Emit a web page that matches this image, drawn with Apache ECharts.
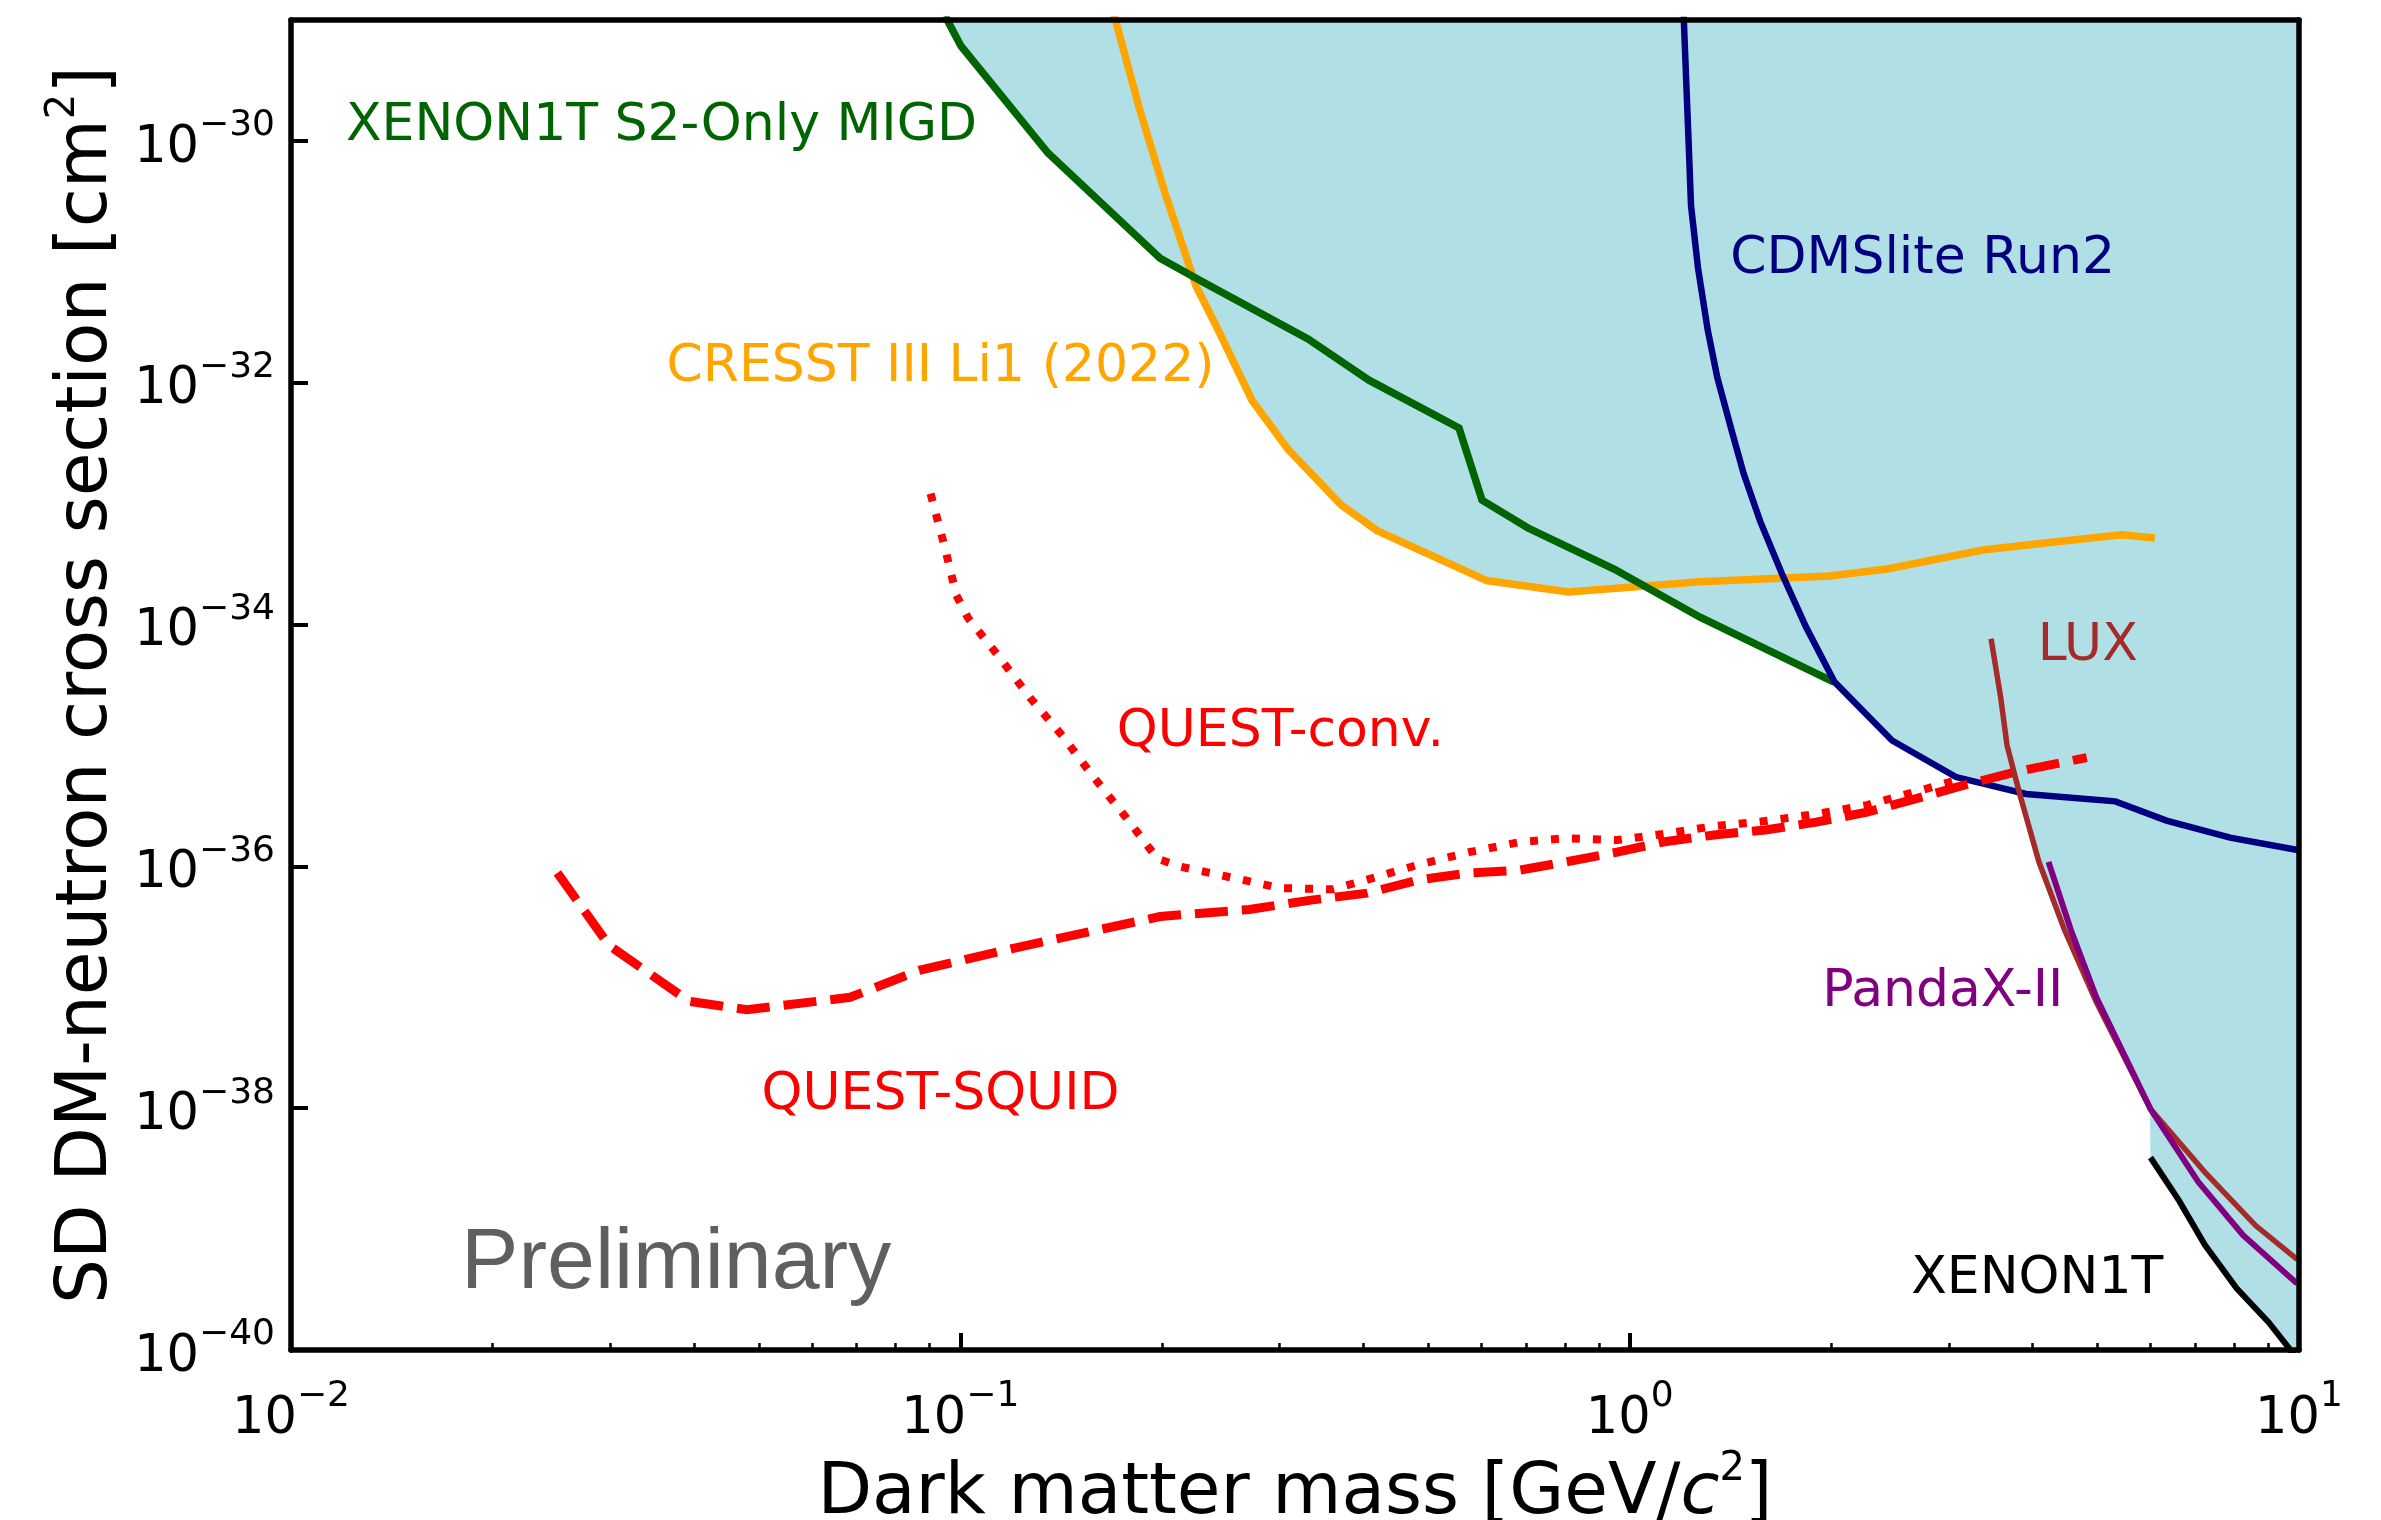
<!DOCTYPE html>
<html>
<head>
<meta charset="utf-8">
<title>SD DM-neutron cross section limits</title>
<script src="https://cdn.jsdelivr.net/npm/echarts@6/dist/echarts.min.js"></script>
<style>
  html, body { margin: 0; padding: 0; background: #ffffff; }
  #chart { width: 2381px; height: 1520px; }
</style>
</head>
<body>
<div id="chart"></div>
<script>
// Exclusion limits: [dark matter mass (GeV/c^2), SD DM-neutron cross section (cm^2)]
const xenon1tMigdLimit = [
  [0.0949, 1.08e-29], [0.1002, 6.10e-30], [0.1352, 7.94e-31], [0.1988, 1.07e-31],
  [0.2289, 6.93e-32], [0.3307, 2.30e-32], [0.4078, 1.05e-32], [0.5050, 5.61e-33],
  [0.5560, 4.22e-33], [0.6017, 1.07e-33], [0.7049, 6.28e-34], [0.9478, 2.88e-34],
  [1.274, 1.15e-34], [2.020, 3.34e-35]
];
const cresstLimit = [
  [0.1697, 1.10e-29], [0.1854, 1.81e-30], [0.2024, 3.65e-31], [0.2249, 6.34e-32],
  [0.2434, 2.65e-32], [0.2728, 7.13e-33], [0.3085, 2.83e-33], [0.3709, 9.73e-34],
  [0.4195, 5.98e-34], [0.6116, 2.31e-34], [0.8103, 1.86e-34], [1.274, 2.26e-34],
  [1.990, 2.52e-34], [2.424, 2.88e-34], [3.370, 4.13e-34], [4.173, 4.72e-34],
  [5.430, 5.52e-34], [6.091, 5.19e-34]
];
const cdmsliteLimit = [
  [1.204, 1.10e-29], [1.225, 9.53e-31], [1.235, 2.91e-31], [1.265, 8.91e-32],
  [1.308, 2.73e-32], [1.352, 1.10e-32], [1.420, 4.03e-33], [1.480, 1.77e-33],
  [1.567, 7.13e-34], [1.689, 2.62e-34], [1.833, 9.62e-35], [2.024, 3.34e-35],
  [2.466, 1.10e-35], [3.073, 5.48e-36], [3.911, 3.97e-36], [5.318, 3.45e-36],
  [6.339, 2.39e-36], [7.890, 1.73e-36], [10.0, 1.36e-36]
];
const luxLimit = [
  [3.467, 7.62e-35], [3.583, 2.51e-35], [3.663, 1.00e-35], [3.826, 3.97e-36],
  [4.087, 1.09e-36], [4.462, 2.99e-37], [4.981, 7.50e-38], [6.000, 9.84e-39],
  [7.232, 2.96e-39], [8.614, 1.07e-39], [9.937, 5.62e-40]
];
const pandaxLimit = [
  [4.224, 1.09e-36], [4.561, 2.99e-37], [4.981, 8.22e-38], [6.000, 9.84e-39],
  [7.07, 2.46e-39], [8.250, 8.91e-40], [9.937, 3.54e-40]
];
const xenon1tLimit = [
  [6.000, 3.91e-39], [6.622, 1.71e-39], [7.232, 7.41e-40], [8.069, 3.24e-40],
  [9.005, 1.70e-40], [9.616, 1.07e-40], [10.0, 8.1e-41]
];
const questSquidProjection = [
  [0.0250, 8.83e-37], [0.02987, 2.22e-37], [0.03938, 7.64e-38], [0.04799, 6.53e-38],
  [0.06844, 8.26e-38], [0.08676, 1.38e-37], [0.1214, 2.13e-37], [0.1988, 3.85e-37],
  [0.27, 4.4e-37], [0.3342, 5.26e-37], [0.4053, 6.01e-37], [0.4829, 7.71e-37],
  [0.5755, 8.81e-37], [0.6859, 9.31e-37], [0.8036, 1.09e-36], [0.9576, 1.31e-36],
  [1.122, 1.59e-36], [1.337, 1.82e-36], [1.594, 2.00e-36], [1.899, 2.32e-36],
  [2.263, 2.81e-36], [2.697, 3.67e-36], [3.160, 4.70e-36], [3.766, 6.03e-36],
  [4.818, 7.94e-36]
];
const questConvProjection = [
  [0.09027, 1.21e-33], [0.0948, 4.35e-34], [0.09863, 1.75e-34], [0.1026, 1.14e-34],
  [0.1144, 5.36e-35], [0.1275, 2.43e-35], [0.1421, 1.20e-35], [0.1584, 5.42e-36],
  [0.1766, 2.56e-36], [0.1969, 1.16e-36], [0.2131, 9.95e-37], [0.2521, 8.17e-37],
  [0.3010, 6.61e-37], [0.3596, 6.46e-37], [0.4053, 7.76e-37], [0.4829, 1.03e-36],
  [0.5755, 1.31e-36], [0.6859, 1.59e-36], [0.8036, 1.71e-36], [0.9576, 1.65e-36],
  [1.122, 1.85e-36], [1.337, 2.15e-36], [1.594, 2.37e-36], [1.899, 2.71e-36],
  [2.263, 3.21e-36], [2.697, 4.20e-36], [3.160, 5.37e-36]
];

// Axis ticks (mass in GeV/c^2, cross section in cm^2)
const xTicks = [0.01, 0.1, 1, 10];
const yTicks = [1e-40, 1e-38, 1e-36, 1e-34, 1e-32, 1e-30];
const X_RANGE = [0.01, 10];
const Y_RANGE = [1e-40, 1e-29];
const xMinorTicks = [];
[0.01, 0.1, 1].forEach(function (decade) {
  for (let k = 2; k <= 9; k++) xMinorTicks.push(+(decade * k).toPrecision(3));
});

// Curve labels, anchored in data coordinates (left edge, vertical middle)
const annotations = [
  { text: 'XENON1T S2-Only MIGD', color: '#006400', at: [0.01208, 1.46e-30] },
  { text: 'CRESST III Li1 (2022)', color: '#ffa500', at: [0.03639, 1.46e-32] },
  { text: 'CDMSlite Run2', color: '#000080', at: [1.413, 1.16e-31] },
  { text: 'LUX', color: '#a52a2a', at: [4.070, 7.23e-35] },
  { text: 'QUEST-conv.', color: '#ff0000', at: [0.1713, 1.41e-35] },
  { text: 'QUEST-SQUID', color: '#ff0000', at: [0.05047, 1.41e-38] },
  { text: 'PandaX-II', color: '#800080', at: [1.939, 1.00e-37] },
  { text: 'XENON1T', color: '#000000', at: [2.634, 4.21e-40] }
];
const watermark = { text: 'Preliminary', color: '#5f5f5f', at: [0.01795, 5.6e-40] };

const FONT = 'DejaVu Sans';
const AXIS_W = 5.5;
const LABEL_DY = 5;
const WATERMARK_DY = 5;

// Cross sections are handed to the log axis in units of 1e-40 cm^2,
// which keeps the axis arithmetic well inside double-precision rounding.
const SIGMA_UNIT = 1e-40;
function toPlot(curve) { return curve.map(function (p) { return [p[0], p[1] / SIGMA_UNIT]; }); }

// Lower envelope of the existing limits, used for the shaded excluded region
function logInterp(curve, m) {
  const n = curve.length;
  if (m < curve[0][0] || m > curve[n - 1][0]) return null;
  for (let i = 0; i < n - 1; i++) {
    const a = curve[i], b = curve[i + 1];
    if (m >= a[0] && m <= b[0]) {
      const la = Math.log10(a[0]), lb = Math.log10(b[0]);
      const t = lb === la ? 0 : (Math.log10(m) - la) / (lb - la);
      return Math.pow(10, Math.log10(a[1]) + t * (Math.log10(b[1]) - Math.log10(a[1])));
    }
  }
  return curve[n - 1][1];
}
const excludedSources = [xenon1tMigdLimit, cresstLimit, cdmsliteLimit, luxLimit, pandaxLimit, xenon1tLimit];
const massSamples = new Set();
for (let k = 0; k <= 4000; k++) massSamples.add(Math.pow(10, -2 + 3 * k / 4000));
excludedSources.forEach(function (c) { c.forEach(function (p) { massSamples.add(p[0]); }); });
const envelope = [];
Array.from(massSamples).sort(function (a, b) { return a - b; }).forEach(function (m) {
  let best = null;
  excludedSources.forEach(function (c) {
    const v = logInterp(c, m);
    if (v !== null && (best === null || v < best)) best = v;
  });
  if (best !== null) envelope.push([m, Math.min(best, Y_RANGE[1])]);
});

function powerLabel(exponent) {
  return '{b|10}{s|' + (exponent < 0 ? '\u2212' + (-exponent) : String(exponent)) + '}';
}
const tickRich = {
  b: { fontFamily: FONT, fontSize: 51, lineHeight: 66, verticalAlign: 'bottom', color: '#000' },
  s: { fontFamily: FONT, fontSize: 36, lineHeight: 36, verticalAlign: 'top', color: '#000' }
};
const titleRich = {
  t: { fontFamily: FONT, fontSize: 71, lineHeight: 80, verticalAlign: 'bottom', color: '#000' },
  i: { fontFamily: FONT, fontSize: 71, lineHeight: 80, verticalAlign: 'bottom', fontStyle: 'italic', color: '#000' },
  p: { fontFamily: FONT, fontSize: 40, lineHeight: 56, verticalAlign: 'top', color: '#000' }
};

function limitLine(name, data, color, width, dash, z) {
  return {
    name: name, type: 'line', data: toPlot(data), symbol: 'none', showSymbol: false,
    smooth: false, clip: true, silent: true, z: z,
    lineStyle: { color: color, width: width, type: dash || 'solid', cap: 'butt', join: 'miter' }
  };
}

const chart = echarts.init(document.getElementById('chart'), null, { renderer: 'canvas', width: 2381, height: 1520 });

const spine = { show: true, onZero: false, lineStyle: { color: '#000', width: AXIS_W } };
const yTickValues = yTicks.map(function (v) { return v / SIGMA_UNIT; });

chart.setOption({
  animation: false,
  backgroundColor: '#ffffff',
  grid: { left: 291, right: 82, top: 20, bottom: 170, containLabel: false, outerBoundsMode: 'none' },
  xAxis: [
    {
      type: 'log', logBase: 10, min: X_RANGE[0], max: X_RANGE[1], position: 'bottom', z: 10,
      axisLine: spine,
      axisTick: { show: true, inside: true, length: 17, customValues: xTicks, lineStyle: { color: '#000', width: 4 } },
      axisLabel: {
        show: true, customValues: xTicks, margin: 29, rich: tickRich,
        formatter: function (v) { return powerLabel(Math.round(Math.log10(v))); }
      },
      splitLine: { show: false },
      name: '{t|Dark matter mass [GeV/}{i|c}{p|2}{t|]}',
      nameLocation: 'middle', nameGap: 87,
      nameTextStyle: { rich: titleRich }
    },
    {
      type: 'log', logBase: 10, min: X_RANGE[0], max: X_RANGE[1], position: 'bottom', z: 10,
      axisLine: { show: false, onZero: false },
      axisTick: { show: true, inside: true, length: 7, customValues: xMinorTicks, lineStyle: { color: '#000', width: 2.5 } },
      axisLabel: { show: false },
      splitLine: { show: false }
    },
    {
      type: 'value', min: 0, max: 1, position: 'top', z: 10,
      axisLine: spine, axisTick: { show: false }, axisLabel: { show: false }, splitLine: { show: false }
    }
  ],
  yAxis: [
    {
      type: 'log', logBase: 10, min: Y_RANGE[0] / SIGMA_UNIT, max: Y_RANGE[1] / SIGMA_UNIT, position: 'left', z: 10,
      axisLine: spine,
      axisTick: { show: true, inside: true, length: 17, customValues: yTickValues, lineStyle: { color: '#000', width: 4 } },
      axisLabel: {
        show: true, customValues: yTickValues, margin: 16, rich: tickRich,
        formatter: function (v) { return powerLabel(Math.round(Math.log10(v * SIGMA_UNIT))); }
      },
      splitLine: { show: false },
      name: '{t|SD DM-neutron cross section [cm}{p|2}{t|]}',
      nameLocation: 'middle', nameRotate: 90, nameGap: 166,
      nameTextStyle: { rich: titleRich }
    },
    {
      type: 'value', min: 0, max: 1, position: 'right', z: 10,
      axisLine: spine, axisTick: { show: false }, axisLabel: { show: false }, splitLine: { show: false }
    }
  ],
  series: [
    {
      name: 'excluded', type: 'line', data: toPlot(envelope), symbol: 'none', showSymbol: false,
      silent: true, clip: true, z: 1,
      lineStyle: { width: 0, opacity: 0 },
      areaStyle: { color: '#b0e0e6', opacity: 1, origin: 'end' }
    },
    limitLine('CRESST III Li1 (2022)', cresstLimit, '#ffa500', 7.5, 'solid', 3),
    limitLine('XENON1T S2-Only MIGD', xenon1tMigdLimit, '#006400', 7.5, 'solid', 4),
    limitLine('CDMSlite Run2', cdmsliteLimit, '#000080', 6.5, 'solid', 5),
    limitLine('QUEST-SQUID', questSquidProjection, '#ff0000', 9, [33, 14], 6),
    limitLine('QUEST-conv.', questConvProjection, '#ff0000', 8, [8, 13], 6),
    limitLine('LUX', luxLimit, '#a52a2a', 5.5, 'solid', 7),
    limitLine('PandaX-II', pandaxLimit, '#800080', 6, 'solid', 8),
    limitLine('XENON1T', xenon1tLimit, '#000000', 6, 'solid', 9)
  ]
});

// Place curve labels through the axes' own scales
function toPixel(at) {
  return chart.convertToPixel({ xAxisIndex: 0, yAxisIndex: 0 }, [at[0], at[1] / SIGMA_UNIT]);
}
const graphics = annotations.map(function (a) {
  const p = toPixel(a.at);
  return {
    type: 'text', x: p[0], y: p[1] + LABEL_DY, z: 20, silent: true,
    style: { text: a.text, fill: a.color, fontFamily: FONT, fontSize: 52, align: 'left', verticalAlign: 'middle' }
  };
});
const wp = toPixel(watermark.at);
graphics.push({
  type: 'text', x: wp[0], y: wp[1] + WATERMARK_DY, z: 20, silent: true,
  style: { text: watermark.text, fill: watermark.color, fontFamily: 'Liberation Sans', fontSize: 86, align: 'left', verticalAlign: 'middle' }
});
chart.setOption({ graphic: graphics });
</script>
</body>
</html>
